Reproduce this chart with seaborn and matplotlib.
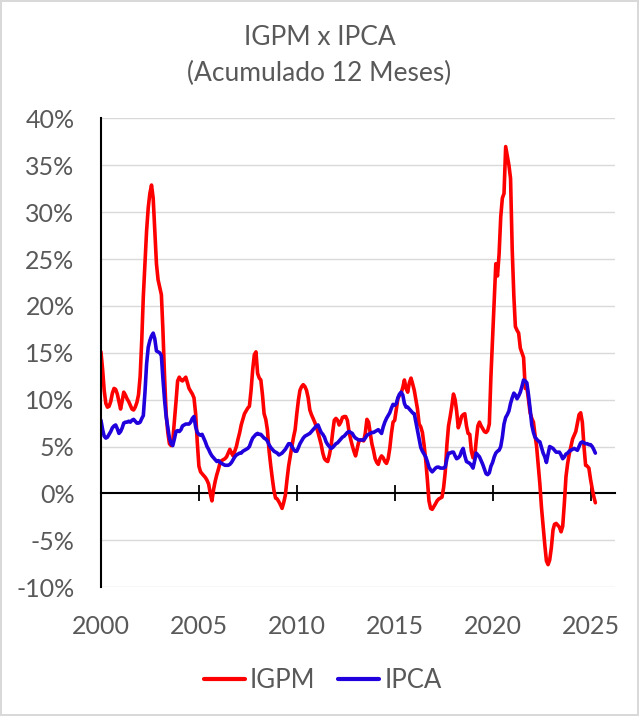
import numpy as np
import pandas as pd
import seaborn as sns
import matplotlib.pyplot as plt
from matplotlib.lines import Line2D

# IGP-M acumulado 12 meses (%), mensal a partir de jan/2000
igpm = [
    15.1, 13.2, 11.0, 9.6, 9.2, 9.3, 9.8, 10.7, 11.2, 11.1, 10.6, 9.8,
    9.0, 9.9, 10.8, 10.5, 10.1, 9.8, 9.4, 9.0, 8.9, 9.2, 9.7, 10.5,
    12.5, 16.5, 21.0, 24.5, 28.0, 30.5, 32.0, 32.9, 31.5, 28.0, 24.5, 22.8,
    22.0, 21.2, 17.5, 12.5, 8.5, 6.5, 5.3, 5.1, 5.6, 7.6, 9.8, 12.0,
    12.4, 12.1, 12.0, 12.2, 12.4, 11.8, 11.2, 10.9, 10.6, 10.2, 8.5, 5.5,
    2.9, 2.3, 2.1, 1.9, 1.7, 1.4, 1.0, 0.0, -0.8, 0.4, 1.3, 2.0,
    2.6, 3.3, 3.5, 3.6, 3.7, 3.9, 4.3, 4.7, 4.3, 4.0, 4.5, 5.0,
    5.8, 6.5, 7.3, 7.9, 8.5, 8.8, 9.1, 9.3, 11.0, 13.2, 14.8, 15.1,
    12.8, 12.3, 12.1, 10.5, 8.5, 7.9, 6.8, 4.6, 3.0, 1.6, 0.3, -0.5,
    -0.6, -0.9, -1.2, -1.6, -1.0, -0.2, 1.4, 2.9, 4.0, 5.0, 6.0, 6.8,
    8.5, 10.0, 11.0, 11.4, 11.6, 11.4, 11.0, 10.2, 8.9, 8.4, 8.0, 7.6,
    7.1, 6.5, 5.9, 5.2, 4.3, 3.7, 3.5, 3.4, 4.1, 5.0, 6.5, 7.8,
    8.0, 7.8, 7.3, 7.6, 8.1, 8.2, 8.2, 7.8, 6.6, 5.8, 5.1, 4.5,
    4.0, 4.8, 5.5, 5.7, 5.7, 5.6, 6.4, 7.9, 7.6, 6.5, 5.3, 4.6,
    3.7, 3.3, 3.1, 3.7, 4.0, 3.8, 3.4, 3.2, 3.7, 4.8, 6.4, 7.6,
    7.8, 9.0, 10.1, 10.5, 10.7, 11.3, 12.1, 11.2, 10.8, 11.8, 12.3, 11.7,
    11.0, 10.0, 9.0, 7.4, 7.1, 6.5, 5.2, 3.6, 1.5, -0.8, -1.6, -1.7,
    -1.4, -1.1, -0.8, -0.6, -0.5, -0.4, 0.6, 2.3, 5.2, 7.2, 8.2, 9.3,
    10.6, 10.0, 8.8, 7.0, 7.5, 8.2, 8.4, 8.5, 7.2, 6.4, 6.3, 4.5,
    3.8, 3.9, 5.6, 7.2, 7.6, 7.2, 6.9, 6.6, 6.5, 6.7, 7.4, 12.5,
    16.5, 20.5, 24.5, 23.2, 25.5, 29.5, 31.5, 32.0, 37.0, 36.0, 35.0, 33.6,
    26.0, 21.0, 17.8, 17.4, 17.1, 15.5, 15.0, 14.5, 11.2, 11.3, 10.0, 8.6,
    8.0, 7.6, 6.3, 5.0, 3.0, 1.0, -1.5, -3.5, -5.5, -7.2, -7.6, -7.1,
    -5.8, -3.9, -3.3, -3.2, -3.4, -3.6, -4.1, -3.5, -1.0, 1.8, 3.2, 4.2,
    5.0, 5.8, 6.2, 6.6, 7.5, 8.4, 8.6, 7.6, 5.0, 3.0, 2.9, 2.7,
    1.5, 0.5, -0.3, -1.0,
]

# IPCA acumulado 12 meses (%), mensal a partir de jan/2000
ipca = [
    7.8, 6.8, 6.1, 5.9, 6.0, 6.3, 6.6, 7.0, 7.2, 7.3, 6.9, 6.4,
    6.6, 7.0, 7.5, 7.6, 7.6, 7.7, 7.6, 7.8, 7.9, 7.7, 7.5, 7.5,
    7.6, 8.0, 8.3, 10.8, 13.8, 15.6, 16.3, 16.8, 17.1, 16.5, 15.2, 15.1,
    15.0, 14.7, 12.3, 10.0, 8.2, 7.0, 5.9, 5.3, 5.1, 5.8, 6.6, 6.7,
    6.6, 6.8, 7.2, 7.3, 7.4, 7.4, 7.4, 7.6, 8.0, 8.2, 7.1, 6.5,
    6.3, 6.2, 6.3, 5.9, 5.5, 5.0, 4.7, 4.3, 4.0, 3.8, 3.6, 3.4,
    3.5, 3.3, 3.2, 3.1, 3.0, 3.0, 3.0, 3.1, 3.3, 3.6, 3.9, 4.1,
    4.2, 4.3, 4.3, 4.5, 4.6, 4.7, 4.8, 5.0, 5.5, 5.9, 6.1, 6.3,
    6.4, 6.3, 6.3, 6.1, 5.9, 5.8, 5.6, 5.2, 4.9, 4.7, 4.5, 4.4,
    4.3, 4.1, 4.2, 4.3, 4.5, 4.7, 5.0, 5.3, 5.3, 5.0, 4.7, 4.5,
    4.5, 4.9, 5.3, 5.6, 5.9, 6.1, 6.2, 6.3, 6.4, 6.6, 6.8, 7.0,
    7.2, 7.3, 6.9, 6.5, 6.3, 6.0, 5.5, 5.2, 5.0, 4.8, 4.9, 5.1,
    5.3, 5.4, 5.6, 5.8, 6.0, 6.1, 6.3, 6.5, 6.6, 6.5, 6.4, 6.1,
    5.9, 5.8, 5.7, 5.7, 5.7, 5.7, 5.9, 6.2, 6.3, 6.4, 6.5, 6.5,
    6.6, 6.7, 6.8, 6.6, 6.4, 7.1, 7.6, 8.0, 8.3, 8.6, 9.1, 9.5,
    9.4, 9.6, 10.2, 10.6, 10.8, 10.5, 9.6, 9.2, 9.2, 9.0, 8.8, 8.6,
    8.5, 7.6, 6.7, 5.8, 4.9, 4.5, 4.2, 3.9, 3.4, 2.8, 2.5, 2.3,
    2.5, 2.7, 2.8, 2.8, 2.7, 2.7, 2.7, 2.8, 3.7, 4.3, 4.3, 4.4,
    4.4, 4.0, 3.7, 3.8, 4.0, 4.5, 4.8, 4.0, 3.4, 3.3, 3.2, 3.0,
    2.7, 3.5, 4.3, 4.1, 3.9, 3.5, 3.1, 2.6, 2.1, 2.0, 2.2, 2.9,
    3.3, 3.9, 4.3, 4.5, 4.6, 5.0, 6.0, 7.4, 8.1, 8.4, 8.8, 9.6,
    10.2, 10.7, 10.5, 10.1, 10.4, 10.8, 11.4, 12.1, 12.0, 11.8, 10.5, 9.0,
    7.3, 6.5, 6.0, 5.8, 5.6, 5.5, 4.9, 4.3, 3.9, 3.3, 4.2, 5.0,
    4.9, 4.8, 4.6, 4.4, 4.4, 4.4, 4.1, 3.7, 3.9, 4.2, 4.3, 4.5,
    4.6, 4.7, 4.8, 4.7, 4.6, 5.0, 5.4, 5.5, 5.4, 5.3, 5.3, 5.2,
    5.2, 5.0, 4.7, 4.3,
]

anos_ticks = [2000, 2005, 2010, 2015, 2020, 2025]
y_ticks = [-10, -5, 0, 5, 10, 15, 20, 25, 30, 35, 40]

datas = pd.date_range("2000-01-01", periods=len(igpm), freq="MS")
df = pd.DataFrame({"data": datas, "IGPM": igpm, "IPCA": ipca})
df = df.melt(id_vars="data", var_name="indice", value_name="valor")

sns.set_style("white")
plt.rcParams["font.family"] = ["Lato", "DejaVu Sans"]
cinza = "#595959"
vermelho = "#ff0000"
azul = "#2000dc"

fig = plt.figure(figsize=(6.39, 7.16), dpi=100)
fig.patch.set_edgecolor("#d9d9d9")
fig.patch.set_linewidth(1.5)
ax = fig.add_axes([0.158, 0.18, 0.804, 0.6545])

sns.lineplot(data=df, x="data", y="valor", hue="indice",
             palette={"IGPM": vermelho, "IPCA": azul},
             linewidth=2.6, ax=ax, legend=False)

ax.set_ylim(-10, 40)
ax.set_xlim(pd.Timestamp("2000-01-01"), pd.Timestamp("2026-03-28"))
ax.set_yticks(y_ticks)
ax.set_yticklabels([f"{v}%" for v in y_ticks])
tick_datas = [pd.Timestamp(f"{a}-01-01") for a in anos_ticks]
ax.set_xticks(tick_datas)
ax.set_xticklabels([str(a) for a in anos_ticks])
ax.tick_params(axis="both", length=0, labelsize=18, labelcolor=cinza)
ax.tick_params(axis="y", pad=19)
ax.tick_params(axis="x", pad=20)
ax.set_xlabel("")
ax.set_ylabel("")

for v in y_ticks:
    if v != 0:
        ax.axhline(v, color="#d9d9d9", linewidth=1.0, zorder=0)

for s in ["top", "right", "bottom"]:
    ax.spines[s].set_visible(False)
ax.spines["left"].set_color("black")
ax.spines["left"].set_linewidth(1.5)

# eixo horizontal no zero com marcas
eixo0 = ax.secondary_xaxis(0.2)
eixo0.set_xticks(tick_datas)
eixo0.tick_params(direction="inout", length=12, width=1.3, labelbottom=False, color="black")
eixo0.spines["bottom"].set_linewidth(1.5)
eixo0.spines["bottom"].set_color("black")

handles = [Line2D([], [], color=vermelho, linewidth=3),
           Line2D([], [], color=azul, linewidth=3)]
fig.legend(handles, ["IGPM", "IPCA"], loc="center", bbox_to_anchor=(0.505, 0.05),
           ncol=2, frameon=False, fontsize=18.5, labelcolor=cinza,
           handlelength=1.6, handletextpad=0.2, columnspacing=0.9)

fig.suptitle("IGPM x IPCA\n(Acumulado 12 Meses)", y=0.965, fontsize=19,
             color=cinza, linespacing=1.55)

fig.savefig("out.png", dpi=100)
